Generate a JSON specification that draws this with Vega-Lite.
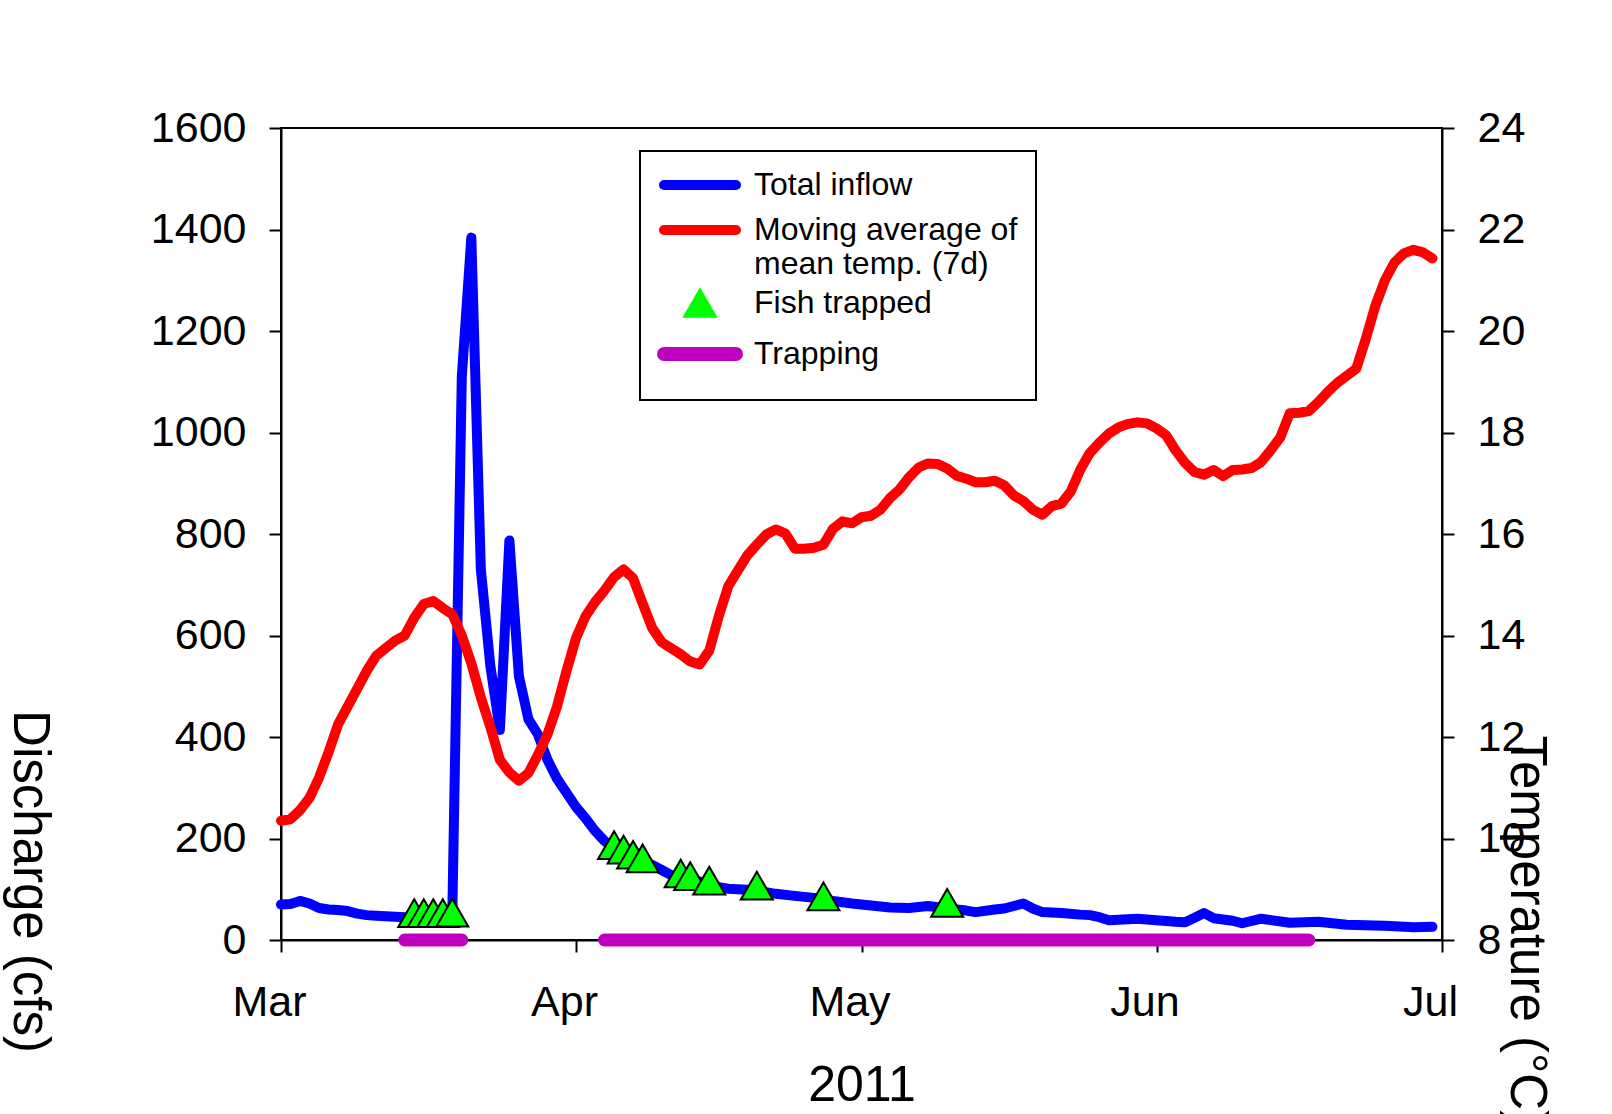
{
  "$schema": "https://vega.github.io/schema/vega-lite/v6.json",
  "width": 1161,
  "height": 812,
  "autosize": {"type": "none"},
  "padding": {"left": 281, "top": 128, "right": 170, "bottom": 174},
  "background": "white",
  "config": {
    "view": {"stroke": "black", "strokeWidth": 2},
    "font": "Liberation Sans",
    "axis": {
      "domainColor": "black", "domainWidth": 2,
      "tickColor": "black", "tickWidth": 2, "tickSize": 12,
      "labelColor": "black", "titleColor": "black",
      "labelFont": "Liberation Sans", "titleFont": "Liberation Sans",
      "labelFontSize": 43, "titleFontWeight": "normal",
      "grid": false, "labelFlush": false, "labelOverlap": false, "labelBound": false
    }
  },
  "datasets": {
    "inflow": [
      {"date": "2011-03-01", "cfs": 70}, {"date": "2011-03-02", "cfs": 71}, {"date": "2011-03-03", "cfs": 77},
      {"date": "2011-03-04", "cfs": 72}, {"date": "2011-03-05", "cfs": 63}, {"date": "2011-03-06", "cfs": 60},
      {"date": "2011-03-07", "cfs": 59}, {"date": "2011-03-08", "cfs": 57}, {"date": "2011-03-09", "cfs": 52},
      {"date": "2011-03-10", "cfs": 49}, {"date": "2011-03-11", "cfs": 48}, {"date": "2011-03-12", "cfs": 47},
      {"date": "2011-03-13", "cfs": 46}, {"date": "2011-03-14", "cfs": 45}, {"date": "2011-03-15", "cfs": 44},
      {"date": "2011-03-16", "cfs": 45}, {"date": "2011-03-17", "cfs": 46}, {"date": "2011-03-18", "cfs": 48},
      {"date": "2011-03-19", "cfs": 52}, {"date": "2011-03-20", "cfs": 1110}, {"date": "2011-03-21", "cfs": 1384},
      {"date": "2011-03-22", "cfs": 730}, {"date": "2011-03-23", "cfs": 540}, {"date": "2011-03-24", "cfs": 414},
      {"date": "2011-03-25", "cfs": 787}, {"date": "2011-03-26", "cfs": 520}, {"date": "2011-03-27", "cfs": 435},
      {"date": "2011-03-28", "cfs": 405}, {"date": "2011-03-29", "cfs": 355}, {"date": "2011-03-30", "cfs": 318},
      {"date": "2011-03-31", "cfs": 290}, {"date": "2011-04-01", "cfs": 262}, {"date": "2011-04-02", "cfs": 240},
      {"date": "2011-04-03", "cfs": 215}, {"date": "2011-04-04", "cfs": 195}, {"date": "2011-04-05", "cfs": 182},
      {"date": "2011-04-06", "cfs": 172}, {"date": "2011-04-07", "cfs": 162}, {"date": "2011-04-08", "cfs": 155},
      {"date": "2011-04-09", "cfs": 148}, {"date": "2011-04-10", "cfs": 138}, {"date": "2011-04-11", "cfs": 128},
      {"date": "2011-04-12", "cfs": 124}, {"date": "2011-04-13", "cfs": 120}, {"date": "2011-04-14", "cfs": 115},
      {"date": "2011-04-15", "cfs": 110}, {"date": "2011-04-16", "cfs": 104}, {"date": "2011-04-17", "cfs": 101},
      {"date": "2011-04-18", "cfs": 100}, {"date": "2011-04-19", "cfs": 99}, {"date": "2011-04-20", "cfs": 97},
      {"date": "2011-04-22", "cfs": 91}, {"date": "2011-04-24", "cfs": 87}, {"date": "2011-04-26", "cfs": 83},
      {"date": "2011-04-28", "cfs": 77}, {"date": "2011-04-30", "cfs": 72}, {"date": "2011-05-02", "cfs": 68},
      {"date": "2011-05-04", "cfs": 64}, {"date": "2011-05-06", "cfs": 63}, {"date": "2011-05-08", "cfs": 67},
      {"date": "2011-05-10", "cfs": 62}, {"date": "2011-05-12", "cfs": 58}, {"date": "2011-05-13", "cfs": 55},
      {"date": "2011-05-15", "cfs": 60}, {"date": "2011-05-16", "cfs": 62}, {"date": "2011-05-17", "cfs": 67},
      {"date": "2011-05-18", "cfs": 72}, {"date": "2011-05-19", "cfs": 62}, {"date": "2011-05-20", "cfs": 55},
      {"date": "2011-05-22", "cfs": 53}, {"date": "2011-05-24", "cfs": 50}, {"date": "2011-05-25", "cfs": 49},
      {"date": "2011-05-26", "cfs": 45}, {"date": "2011-05-27", "cfs": 39}, {"date": "2011-05-28", "cfs": 40},
      {"date": "2011-05-30", "cfs": 42}, {"date": "2011-06-01", "cfs": 39}, {"date": "2011-06-03", "cfs": 36},
      {"date": "2011-06-04", "cfs": 35}, {"date": "2011-06-05", "cfs": 44}, {"date": "2011-06-06", "cfs": 53},
      {"date": "2011-06-07", "cfs": 43}, {"date": "2011-06-09", "cfs": 38}, {"date": "2011-06-10", "cfs": 33},
      {"date": "2011-06-12", "cfs": 42}, {"date": "2011-06-15", "cfs": 34}, {"date": "2011-06-18", "cfs": 36},
      {"date": "2011-06-21", "cfs": 30}, {"date": "2011-06-25", "cfs": 28}, {"date": "2011-06-28", "cfs": 25},
      {"date": "2011-06-30", "cfs": 26}
    ],
    "temperature": [
      {"date": "2011-03-01", "temp": 10.35}, {"date": "2011-03-02", "temp": 10.38}, {"date": "2011-03-03", "temp": 10.56},
      {"date": "2011-03-04", "temp": 10.8}, {"date": "2011-03-05", "temp": 11.2}, {"date": "2011-03-06", "temp": 11.7},
      {"date": "2011-03-07", "temp": 12.25}, {"date": "2011-03-08", "temp": 12.6}, {"date": "2011-03-09", "temp": 12.95},
      {"date": "2011-03-10", "temp": 13.3}, {"date": "2011-03-11", "temp": 13.6}, {"date": "2011-03-12", "temp": 13.75},
      {"date": "2011-03-13", "temp": 13.9}, {"date": "2011-03-14", "temp": 14.0}, {"date": "2011-03-15", "temp": 14.35},
      {"date": "2011-03-16", "temp": 14.62}, {"date": "2011-03-17", "temp": 14.68}, {"date": "2011-03-18", "temp": 14.54},
      {"date": "2011-03-19", "temp": 14.42}, {"date": "2011-03-20", "temp": 14.0}, {"date": "2011-03-21", "temp": 13.45},
      {"date": "2011-03-22", "temp": 12.78}, {"date": "2011-03-23", "temp": 12.2}, {"date": "2011-03-24", "temp": 11.55},
      {"date": "2011-03-25", "temp": 11.3}, {"date": "2011-03-26", "temp": 11.14}, {"date": "2011-03-27", "temp": 11.29},
      {"date": "2011-03-28", "temp": 11.65}, {"date": "2011-03-29", "temp": 12.05}, {"date": "2011-03-30", "temp": 12.6},
      {"date": "2011-03-31", "temp": 13.3}, {"date": "2011-04-01", "temp": 13.95}, {"date": "2011-04-02", "temp": 14.38},
      {"date": "2011-04-03", "temp": 14.66}, {"date": "2011-04-04", "temp": 14.89}, {"date": "2011-04-05", "temp": 15.15},
      {"date": "2011-04-06", "temp": 15.3}, {"date": "2011-04-07", "temp": 15.13}, {"date": "2011-04-08", "temp": 14.63},
      {"date": "2011-04-09", "temp": 14.15}, {"date": "2011-04-10", "temp": 13.87}, {"date": "2011-04-11", "temp": 13.75},
      {"date": "2011-04-12", "temp": 13.63}, {"date": "2011-04-13", "temp": 13.49}, {"date": "2011-04-14", "temp": 13.43},
      {"date": "2011-04-15", "temp": 13.7}, {"date": "2011-04-16", "temp": 14.38}, {"date": "2011-04-17", "temp": 14.97},
      {"date": "2011-04-18", "temp": 15.28}, {"date": "2011-04-19", "temp": 15.58}, {"date": "2011-04-20", "temp": 15.79},
      {"date": "2011-04-21", "temp": 15.99}, {"date": "2011-04-22", "temp": 16.09}, {"date": "2011-04-23", "temp": 16.01},
      {"date": "2011-04-24", "temp": 15.71}, {"date": "2011-04-25", "temp": 15.71}, {"date": "2011-04-26", "temp": 15.73},
      {"date": "2011-04-27", "temp": 15.79}, {"date": "2011-04-28", "temp": 16.1}, {"date": "2011-04-29", "temp": 16.25},
      {"date": "2011-04-30", "temp": 16.21}, {"date": "2011-05-01", "temp": 16.33}, {"date": "2011-05-02", "temp": 16.36},
      {"date": "2011-05-03", "temp": 16.48}, {"date": "2011-05-04", "temp": 16.71}, {"date": "2011-05-05", "temp": 16.88},
      {"date": "2011-05-06", "temp": 17.12}, {"date": "2011-05-07", "temp": 17.31}, {"date": "2011-05-08", "temp": 17.39},
      {"date": "2011-05-09", "temp": 17.38}, {"date": "2011-05-10", "temp": 17.29}, {"date": "2011-05-11", "temp": 17.15},
      {"date": "2011-05-12", "temp": 17.09}, {"date": "2011-05-13", "temp": 17.02}, {"date": "2011-05-14", "temp": 17.02},
      {"date": "2011-05-15", "temp": 17.05}, {"date": "2011-05-16", "temp": 16.96}, {"date": "2011-05-17", "temp": 16.76},
      {"date": "2011-05-18", "temp": 16.65}, {"date": "2011-05-19", "temp": 16.48}, {"date": "2011-05-20", "temp": 16.38},
      {"date": "2011-05-21", "temp": 16.55}, {"date": "2011-05-22", "temp": 16.6}, {"date": "2011-05-23", "temp": 16.84},
      {"date": "2011-05-24", "temp": 17.27}, {"date": "2011-05-25", "temp": 17.6}, {"date": "2011-05-26", "temp": 17.8},
      {"date": "2011-05-27", "temp": 17.98}, {"date": "2011-05-28", "temp": 18.1}, {"date": "2011-05-29", "temp": 18.17},
      {"date": "2011-05-30", "temp": 18.2}, {"date": "2011-05-31", "temp": 18.18}, {"date": "2011-06-01", "temp": 18.08},
      {"date": "2011-06-02", "temp": 17.95}, {"date": "2011-06-03", "temp": 17.65}, {"date": "2011-06-04", "temp": 17.4},
      {"date": "2011-06-05", "temp": 17.22}, {"date": "2011-06-06", "temp": 17.17}, {"date": "2011-06-07", "temp": 17.26},
      {"date": "2011-06-08", "temp": 17.14}, {"date": "2011-06-09", "temp": 17.26}, {"date": "2011-06-10", "temp": 17.27},
      {"date": "2011-06-11", "temp": 17.3}, {"date": "2011-06-12", "temp": 17.42}, {"date": "2011-06-13", "temp": 17.65},
      {"date": "2011-06-14", "temp": 17.9}, {"date": "2011-06-15", "temp": 18.38}, {"date": "2011-06-16", "temp": 18.39},
      {"date": "2011-06-17", "temp": 18.42}, {"date": "2011-06-18", "temp": 18.6}, {"date": "2011-06-19", "temp": 18.8},
      {"date": "2011-06-20", "temp": 18.98}, {"date": "2011-06-21", "temp": 19.12}, {"date": "2011-06-22", "temp": 19.26},
      {"date": "2011-06-23", "temp": 19.85}, {"date": "2011-06-24", "temp": 20.5}, {"date": "2011-06-25", "temp": 21.0},
      {"date": "2011-06-26", "temp": 21.35}, {"date": "2011-06-27", "temp": 21.53}, {"date": "2011-06-28", "temp": 21.6},
      {"date": "2011-06-29", "temp": 21.55}, {"date": "2011-06-30", "temp": 21.43}
    ],
    "fish": [
      {"date": "2011-03-15", "cfs": 53}, {"date": "2011-03-16", "cfs": 53}, {"date": "2011-03-17", "cfs": 53},
      {"date": "2011-03-18", "cfs": 53}, {"date": "2011-03-19", "cfs": 54},
      {"date": "2011-04-05", "cfs": 187}, {"date": "2011-04-06", "cfs": 178}, {"date": "2011-04-07", "cfs": 168},
      {"date": "2011-04-08", "cfs": 161}, {"date": "2011-04-12", "cfs": 131}, {"date": "2011-04-13", "cfs": 126},
      {"date": "2011-04-15", "cfs": 117}, {"date": "2011-04-20", "cfs": 107}, {"date": "2011-04-27", "cfs": 86},
      {"date": "2011-05-10", "cfs": 73}
    ],
    "trapping": [
      {"date": "2011-03-14", "end": "2011-03-20"},
      {"date": "2011-04-04", "end": "2011-06-17"}
    ]
  },
  "encoding": {
    "x": {
      "field": "date",
      "type": "temporal",
      "scale": {
        "type": "utc",
        "domain": [
          {"year": 2011, "month": 3, "date": 1, "utc": true},
          {"year": 2011, "month": 7, "date": 1, "utc": true}
        ]
      },
      "axis": {
        "orient": "bottom",
        "values": [
          {"year": 2011, "month": 3, "date": 1, "utc": true},
          {"year": 2011, "month": 4, "date": 1, "utc": true},
          {"year": 2011, "month": 5, "date": 1, "utc": true},
          {"year": 2011, "month": 6, "date": 1, "utc": true},
          {"year": 2011, "month": 7, "date": 1, "utc": true}
        ],
        "labelExpr": "utcFormat(datum.value, '%b')",
        "labelPadding": 29,
        "labelOffset": -12,
        "title": "2011",
        "titleFontSize": 50,
        "titleBaseline": "alphabetic",
        "titleY": 160
      }
    }
  },
  "layer": [
    {
      "data": {"name": "inflow"},
      "mark": {"type": "line", "strokeWidth": 10, "strokeCap": "round", "strokeJoin": "round"},
      "encoding": {
        "y": {
          "field": "cfs",
          "type": "quantitative",
          "scale": {"domain": [0, 1600], "nice": false},
          "axis": {
            "orient": "left",
            "values": [0, 200, 400, 600, 800, 1000, 1200, 1400, 1600],
            "format": "d",
            "labelPadding": 23,
            "title": "Discharge (cfs)",
            "titleFontSize": 51,
            "titleAngle": 90,
            "titleAlign": "center",
            "titleBaseline": "alphabetic",
            "titleX": -268,
            "titleY": 753
          }
        },
        "color": {
          "datum": "Total inflow",
          "type": "nominal",
          "scale": {
            "domain": ["Total inflow", "Moving average of mean temp. (7d)", "Fish trapped", "Trapping"],
            "range": ["#0000ff", "#ff0000", "#00ff00", "#bf00bf"]
          },
          "legend": {
            "title": null,
            "orient": "none",
            "legendX": 359,
            "legendY": 23,
            "direction": "vertical",
            "padding": 18,
            "strokeColor": "black",
            "fillColor": "white",
            "labelFont": "Liberation Sans",
            "labelFontSize": 32,
            "labelColor": "black",
            "labelLimit": 600,
            "labelOffset": 38,
            "symbolOffset": 26,
            "rowPadding": 5,
            "symbolSize": 5184,
            "symbolStrokeWidth": 10,
            "symbolType": "stroke",
            "labelExpr": "datum.label === 'Moving average of mean temp. (7d)' ? ['Moving average of', 'mean temp. (7d)'] : datum.label",
            "encode": {
              "legend": {"update": {"strokeWidth": {"value": 2}}},
              "labels": {"update": {"lineHeight": {"value": 34}}},
              "symbols": {
                "update": {
                  "shape": {"signal": "datum.value === 'Fish trapped' ? 'triangle-up' : 'stroke'"},
                  "size": {"signal": "datum.value === 'Fish trapped' ? 1024 : 5184"},
                  "fill": {"signal": "datum.value === 'Fish trapped' ? '#00ff00' : 'transparent'"},
                  "stroke": {"signal": "datum.value === 'Fish trapped' ? 'black' : scale('color', datum.value)"},
                  "strokeWidth": {"signal": "datum.value === 'Fish trapped' ? 2 : (datum.value === 'Trapping' ? 14 : 10)"},
                  "strokeCap": {"value": "round"},
                  "opacity": {"value": 1}
                }
              }
            }
          }
        }
      }
    },
    {
      "data": {"name": "temperature"},
      "mark": {"type": "line", "strokeWidth": 10, "strokeCap": "round", "strokeJoin": "round"},
      "encoding": {
        "y": {
          "field": "temp",
          "type": "quantitative",
          "scale": {"domain": [8, 24], "nice": false, "zero": false},
          "axis": {
            "orient": "right",
            "values": [8, 10, 12, 14, 16, 18, 20, 22, 24],
            "labelPadding": 23,
            "title": "Temperature (°C)",
            "titleFontSize": 51,
            "titleAngle": 90,
            "titleAlign": "left",
            "titleBaseline": "alphabetic",
            "titleX": 68,
            "titleY": 607
          }
        },
        "color": {"datum": "Moving average of mean temp. (7d)", "type": "nominal"}
      }
    },
    {
      "layer": [
        {
          "data": {"name": "trapping"},
          "mark": {"type": "rule", "strokeWidth": 13, "strokeCap": "round"},
          "encoding": {
            "x2": {"field": "end"},
            "y": {"datum": 0, "type": "quantitative", "scale": {"domain": [0, 1600], "nice": false}, "axis": null},
            "color": {"datum": "Trapping", "type": "nominal"}
          }
        },
        {
          "data": {"name": "fish"},
          "mark": {"type": "point", "shape": "triangle-up", "filled": true, "size": 1024, "stroke": "black", "strokeWidth": 2, "opacity": 1},
          "encoding": {
            "y": {"field": "cfs", "type": "quantitative", "scale": {"domain": [0, 1600], "nice": false}, "axis": null},
            "color": {"datum": "Fish trapped", "type": "nominal"}
          }
        }
      ]
    }
  ],
  "resolve": {"scale": {"y": "independent"}, "axis": {"y": "independent"}}
}
